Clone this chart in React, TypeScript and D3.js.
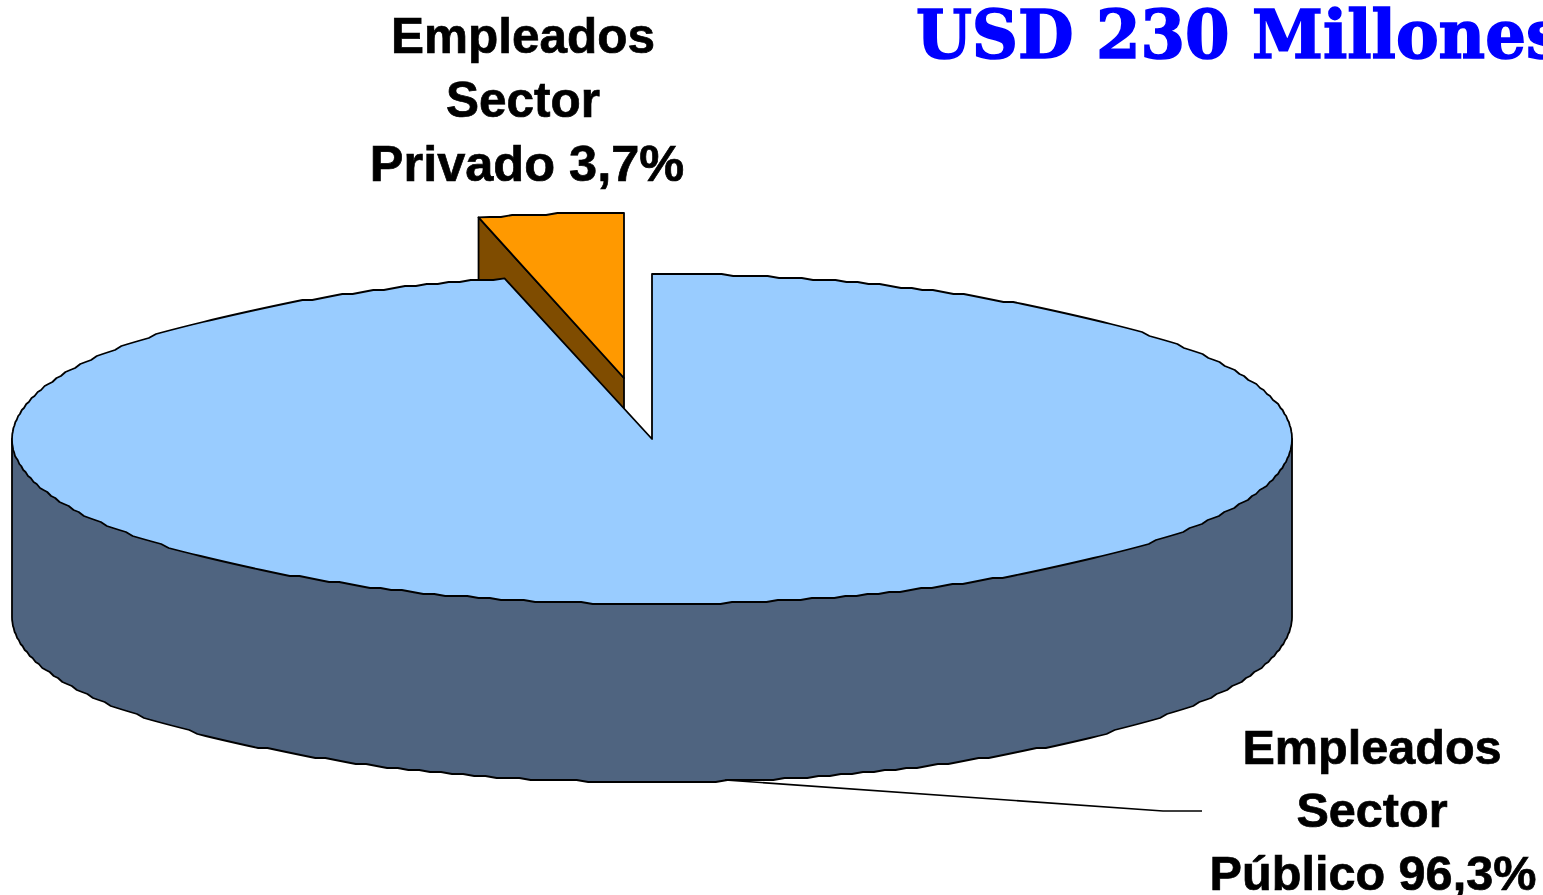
import React from "react";
import * as d3 from "d3";

const categories = ["Empleados Sector Público", "Empleados Sector Privado"];
const shares = [96.3, 3.7];
const labelPublic = ["Empleados", "Sector", "Público 96,3%"];
const labelPrivate = ["Empleados", "Sector", "Privado 3,7%"];
const titleText = "USD 230 Millones";

const W = 1543, H = 895;
const cx = 652, cy = 439, rx = 640, ry = 165, depth = 178;
const explodeX = -26, explodeY = -61;

const pieGen = d3.pie<number>().sort(null).startAngle(0).endAngle(2 * Math.PI);
const arcs = pieGen(shares);

function pt(a: number): [number, number] {
  return [cx + rx * Math.sin(a), cy - ry * Math.cos(a)];
}
function jagged(a0: number, a1: number): [number, number][] {
  const n = Math.max(2, Math.round(Math.abs(a1 - a0) * 55));
  const out: [number, number][] = [];
  for (let i = 0; i <= n; i++) {
    const a = a0 + ((a1 - a0) * i) / n;
    const [x, y] = pt(a);
    const isEnd = i === 0 || i === n;
    out.push([x, isEnd ? y : Math.round(y / 2) * 2]);
  }
  return out;
}
const line = d3.line<[number, number]>();
const stroke = { stroke: "#000", strokeWidth: 1.8, strokeLinejoin: "round" as const };

export default function App() {
  const big = arcs[0], small = arcs[1];
  const top = jagged(big.startAngle, big.endAngle);
  const bigPath = line([[cx, cy], ...top])! + "Z";
  const bottom = jagged(Math.PI / 2, (3 * Math.PI) / 2).map(([x, y]) => [x, y + depth] as [number, number]);
  const wall = line([[cx + rx, cy], ...bottom, [cx - rx, cy]])! + "Z";

  const smallTop = jagged(small.startAngle, small.endAngle);
  const ax = cx + explodeX - 2, ay = cy + explodeY;
  const shift = (p: [number, number]): [number, number] => [p[0] + explodeX, p[1] + explodeY];
  const tip = shift(pt(small.endAngle));
  const orange = line([[ax, ay], ...smallTop.map(shift).slice(0, -1), [ax, tip[1]]])! + "Z";
  const sideOuter = shift(pt(small.startAngle));
  const brown = line([[ax, ay], sideOuter, [sideOuter[0], sideOuter[1] + depth], [ax, ay + depth]])! + "Z";

  return (
    <svg width={W} height={H} style={{ position: "absolute", left: 0, top: 0 }}>
      <rect width={W} height={H} fill="#fff" />
      <path d={brown} fill="#7f4c00" {...stroke} />
      <path d={orange} fill="#ff9900" {...stroke} />
      <path d={wall} fill="#4f6480" {...stroke} />
      <path d={bigPath} fill="#99ccff" {...stroke} />
      <polyline points="725,780 1163,811 1202,811" fill="none" stroke="#000" strokeWidth={1.6} />
      <g fontFamily="Liberation Sans" fontWeight="bold" fill="#000" stroke="#000" strokeWidth={0.7} textAnchor="middle">
        {labelPrivate.map((t, i) => (
          <text key={t} x={i === 2 ? 527 : 523} y={53 + i * 64} fontSize={i === 2 ? 50.5 : 49.5}>{t}</text>
        ))}
        {labelPublic.map((t, i) => (
          <text key={t} x={i === 2 ? 1373 : 1372} y={764 + i * 63} fontSize={48.6}>{t}</text>
        ))}
      </g>
      <text x={916} y={58} fontFamily="DejaVu Serif" fontWeight="bold" fontSize={67} fill="#0000ff" stroke="#0000ff" strokeWidth={1.6} textLength={646} lengthAdjust="spacingAndGlyphs">{titleText}</text>
      <title>{categories.join(" / ")}</title>
    </svg>
  );
}
